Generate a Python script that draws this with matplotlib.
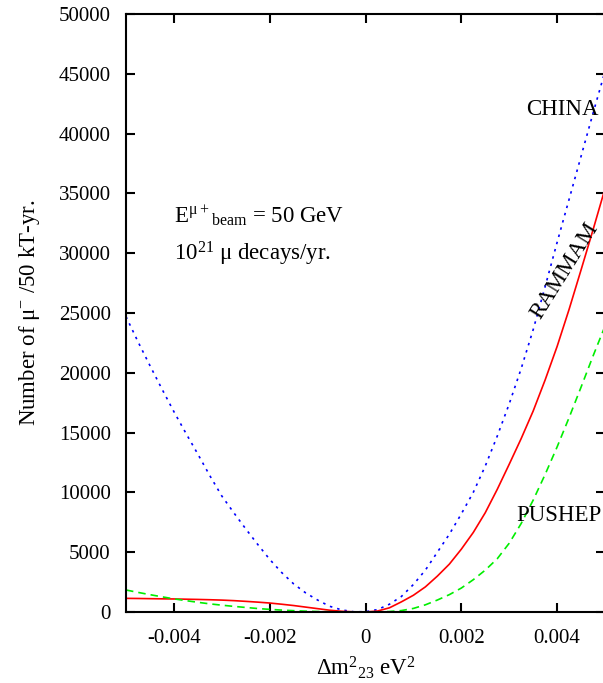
import numpy as np
import matplotlib
matplotlib.use("Agg")
import matplotlib.pyplot as plt

plt.rcParams['font.family'] = ['Liberation Serif', 'DejaVu Serif']
plt.rcParams['mathtext.fontset'] = 'custom'
plt.rcParams['mathtext.rm'] = 'Liberation Serif'
plt.rcParams['mathtext.it'] = 'Liberation Serif:italic'
plt.rcParams['mathtext.bf'] = 'Liberation Serif:bold'

# delta m^2_23 (eV^2)
dm2 = [-0.005, -0.00475, -0.0045, -0.00425, -0.004, -0.00375, -0.0035, -0.00325,
       -0.003, -0.00275, -0.0025, -0.00225, -0.002, -0.00175, -0.0015, -0.00125,
       -0.001, -0.00075, -0.0005, -0.00025, 0.0, 0.00025, 0.0005, 0.00075,
       0.001, 0.00125, 0.0015, 0.00175, 0.002, 0.00225, 0.0025, 0.00275,
       0.003, 0.00325, 0.0035, 0.00375, 0.004, 0.00425, 0.0045, 0.00475, 0.005]

china = [24700, 22600, 20600, 18650, 16750, 14950, 13200, 11400,
         9700, 8300, 6950, 5650, 4400, 3300, 2350, 1600,
         1000, 480, 180, 20, 20, 200, 650, 1300,
         2300, 3500, 5000, 6500, 8200, 10000, 12200, 14700,
         17400, 20350, 23600, 27200, 30900, 34500, 38100, 41700, 45200]

rammam = [1140, 1130, 1115, 1100, 1090, 1070, 1050, 1025,
          995, 950, 890, 825, 750, 650, 540, 410,
          280, 150, 60, 15, 0, 80, 350, 850,
          1400, 2100, 3000, 4000, 5250, 6650, 8300, 10250,
          12350, 14500, 16800, 19400, 22200, 25300, 28600, 31950, 35400]

pushep = [1840, 1640, 1450, 1270, 1100, 950, 810, 680,
          570, 470, 380, 290, 220, 160, 110, 70,
          40, 20, 10, 0, 0, 5, 40, 120,
          300, 600, 1000, 1450, 2000, 2700, 3500, 4450,
          5750, 7400, 9350, 11500, 13800, 16250, 18800, 21400, 23900]

xticks = [-0.004, -0.002, 0, 0.002, 0.004]
xticklabels = ['-0.004', '-0.002', '0', '0.002', '0.004']
yticks = list(range(0, 50001, 5000))

fig = plt.figure(figsize=(6.03, 6.83), dpi=100)
ax = fig.add_axes([126 / 603, 71 / 683, 479 / 603, 598 / 683])

ax.plot(dm2, china, color='#0000ff', lw=1.2, dashes=(1.5, 3))
ax.plot(dm2, rammam, color='#ff0000', lw=1.2)
ax.plot(dm2, pushep, color='#00ee00', lw=1.2, dashes=(4.5, 3))

ax.set_xlim(-0.005, 0.005)
ax.set_ylim(0, 50000)
ax.set_xticks(xticks)
ax.set_xticklabels(xticklabels)
ax.set_yticks(yticks)

ax.tick_params(direction='in', length=6.5, width=1.5, labelsize=15,
               top=True, right=True)
ax.tick_params(axis='y', pad=11)
ax.tick_params(axis='x', pad=12)
for s in ax.spines.values():
    s.set_linewidth(1.5)

ax.set_xlabel(r'$\Delta$m$^{2}$$_{23}$ eV$^{2}$', fontsize=16.5, labelpad=5)
ax.set_ylabel(r'Number of μ$^{-}$ /50 kT-yr.', fontsize=16.5, labelpad=12)

ax.text(0.0041, 42000, 'CHINA', fontsize=16.5, ha='center', va='center')
ax.text(0.00404, 8030, 'PUSHEP', fontsize=16.5, ha='center', va='center')
ax.text(0.00416, 28500, 'RAMMAM', fontsize=16.5, ha='center', va='center',
        rotation=58, rotation_mode='anchor')

ax.text(-0.004, 32530, r'E$^{\mathrm{μ+}}$$_{\mathrm{beam}}$ = 50 GeV',
        fontsize=16.5, ha='left', va='baseline')
ax.text(-0.004, 29430, r'10$^{21}$ μ decays/yr.',
        fontsize=16.5, ha='left', va='baseline')

fig.savefig('out.png', dpi=100)
